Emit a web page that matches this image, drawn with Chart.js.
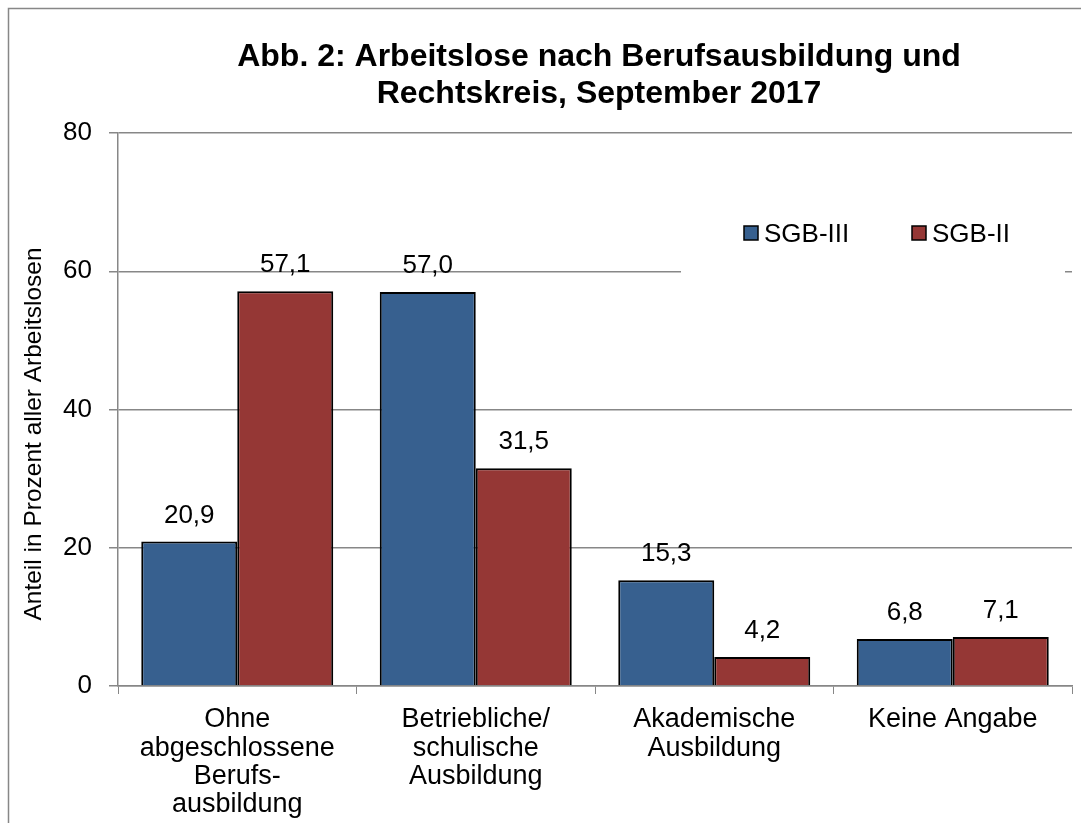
<!DOCTYPE html>
<html>
<head>
<meta charset="utf-8">
<script src="https://cdn.jsdelivr.net/npm/chart.js@4"></script>
<style>
  body { margin: 0; background: #fff; }
</style>
</head>
<body>
<canvas id="myChartBar" width="1081" height="823"></canvas>
<script>
const categories = [
  ["Ohne", "abgeschlossene", "Berufs-", "ausbildung"],
  ["Betriebliche/", "schulische", "Ausbildung"],
  ["Akademische", "Ausbildung"],
  ["Keine Angabe"]
];
const sgb3 = [20.9, 57.0, 15.3, 6.8];
const sgb2 = [57.1, 31.5, 4.2, 7.1];
const yTicks = [0, 20, 40, 60, 80];

const titleLines = ["Abb. 2: Arbeitslose nach Berufsausbildung und", "Rechtskreis, September 2017"];
const yTitle = "Anteil in Prozent aller Arbeitslosen";

const FONT = "'Liberation Sans', Arial, sans-serif";
const GRAY = "#878787";

// frame, title, y title, value labels and legend
const extras = {
  id: 'extras',
  beforeDraw(chart) {
    const ctx = chart.ctx;
    ctx.save();
    ctx.fillStyle = '#fff';
    ctx.fillRect(0, 0, chart.width, chart.height);
    ctx.strokeStyle = GRAY;
    ctx.lineWidth = 1.5;
    ctx.strokeRect(8.5, 8.5, 1200, 1200);
    ctx.restore();
  },
  beforeDatasetsDraw(chart) {
    const ctx = chart.ctx;
    ctx.save();
    // legend box hides the gridline behind it
    ctx.fillStyle = '#fff';
    ctx.fillRect(681, 200, 384, 76);
    ctx.restore();
  },
  afterDatasetsDraw(chart) {
    const ctx = chart.ctx;
    ctx.save();
    ctx.fillStyle = '#000';
    ctx.font = "26px " + FONT;
    ctx.textAlign = 'center';
    ctx.textBaseline = 'middle';
    chart.data.datasets.forEach((ds, i) => {
      chart.getDatasetMeta(i).data.forEach((bar, j) => {
        const txt = ds.data[j].toFixed(1).replace('.', ',');
        ctx.fillText(txt, bar.x, bar.y - 26);
      });
    });

    // title
    ctx.font = "bold 32px " + FONT;
    ctx.textBaseline = 'alphabetic';
    ctx.fillText(titleLines[0], 599, 66);
    ctx.fillText(titleLines[1], 599, 103);

    // y axis title
    ctx.save();
    ctx.translate(41, 434);
    ctx.rotate(-Math.PI / 2);
    ctx.font = "24.5px " + FONT;
    ctx.fillText(yTitle, 0, 0);
    ctx.restore();

    // legend
    ctx.font = "26px " + FONT;
    ctx.textAlign = 'left';
    const items = [[744, 0], [912, 1]];
    items.forEach(([x, i]) => {
      const ds = chart.data.datasets[i];
      ctx.fillStyle = ds.backgroundColor;
      ctx.fillRect(x, 226, 14, 14);
      ctx.strokeStyle = '#000';
      ctx.lineWidth = 1.5;
      ctx.strokeRect(x, 226, 14, 14);
      ctx.fillStyle = '#000';
      ctx.fillText(ds.label, x + 20, 242);
    });
    ctx.restore();
  }
};

new Chart(document.getElementById("myChartBar").getContext("2d"), {
  type: 'bar',
  plugins: [extras],
  data: {
    labels: categories,
    datasets: [{
      label: 'SGB-III',
      backgroundColor: "#37608f",
      borderColor: "#000",
      borderWidth: 2,
      data: sgb3,
    }, {
      label: 'SGB-II',
      backgroundColor: "#953735",
      borderColor: "#000",
      borderWidth: 2,
      data: sgb2,
    }]
  },
  options: {
    responsive: false,
    animation: false,
    layout: { padding: { top: 133, right: 9, left: 0, bottom: 0 } },
    datasets: { bar: { categoryPercentage: 0.805, barPercentage: 1.0 } },
    plugins: {
      legend: { display: false },
      title: { display: false },
      tooltip: { enabled: false }
    },
    scales: {
      x: {
        afterFit(scale) { scale.height = 137; },
        grid: { drawOnChartArea: false, drawTicks: true, tickLength: 8, color: GRAY },
        border: { color: GRAY, width: 1.5 },
        ticks: {
          color: '#000',
          maxRotation: 0,
          autoSkip: false,
          padding: 12,
          font: { family: FONT, size: 27, lineHeight: 1.04 }
        }
      },
      y: {
        min: 0,
        max: 80,
        afterFit(scale) { scale.width = 118; },
        afterBuildTicks(scale) { scale.ticks = yTicks.map(v => ({ value: v })); },
        grid: { color: GRAY, lineWidth: 1.5, tickLength: 9 },
        border: { color: GRAY, width: 1.5 },
        ticks: {
          color: '#000',
          padding: 17,
          font: { family: FONT, size: 26 }
        }
      }
    }
  }
});
</script>
</body>
</html>
